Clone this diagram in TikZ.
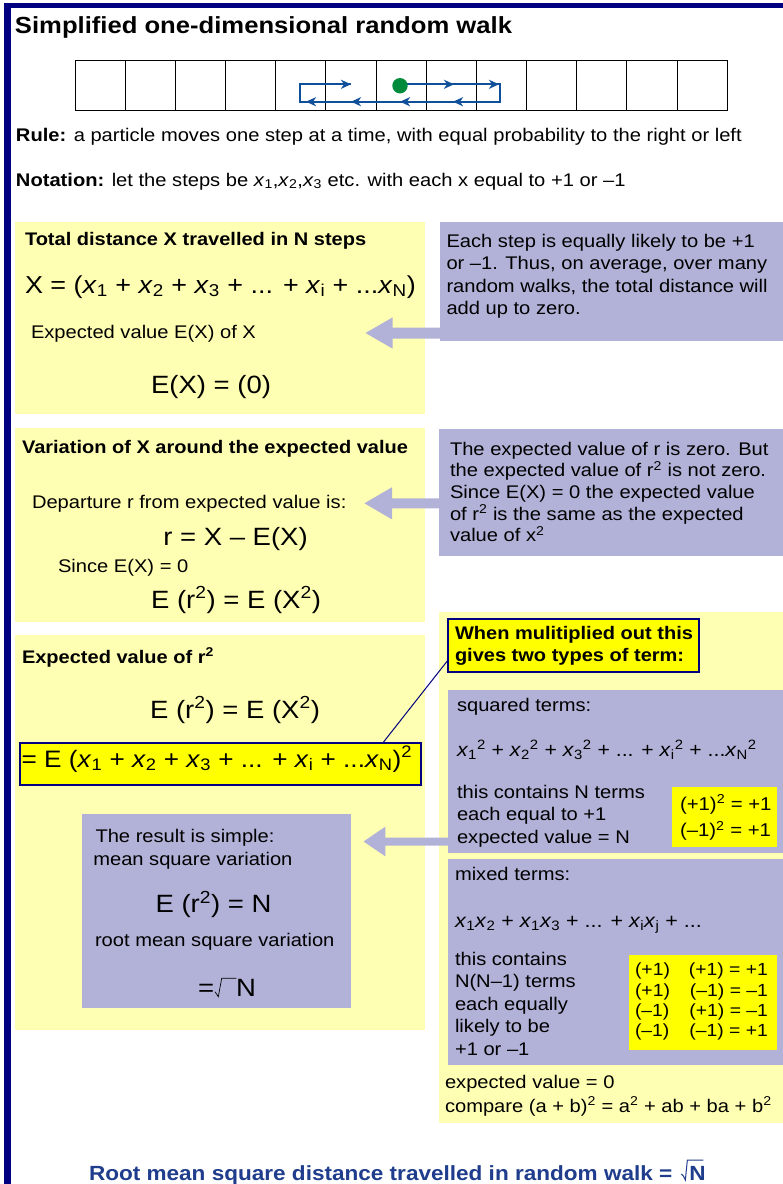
\documentclass[tikz,border=0pt]{standalone}
\usepackage{fontspec}
\setmainfont{Liberation Sans}[FakeStretch=1.1]
\usetikzlibrary{arrows.meta}
\definecolor{framec}{RGB}{0,0,128}
\definecolor{lyel}{RGB}{255,255,180}
\definecolor{lav}{RGB}{178,178,216}
\definecolor{byel}{RGB}{255,255,0}
\definecolor{walkblue}{RGB}{16,80,155}
\definecolor{dotgreen}{RGB}{0,140,60}
\definecolor{btmblue}{RGB}{31,61,140}
\newcommand\fsz[1]{\fontsize{#1}{#1}\selectfont}
\newcommand\vx{\textit{x}}
\newcommand\sps[1]{\textsuperscript{#1}}
\newcommand\sbs[1]{\textsubscript{#1}}
\begin{document}
\begin{tikzpicture}[x=1pt,y=-1pt,
  txt/.style={anchor=base west,inner sep=0pt,outer sep=0pt,font=\fsz{18.3}},
  ctxt/.style={anchor=base,inner sep=0pt,outer sep=0pt,font=\fsz{25}},
  head/.style={txt,font=\fsz{18.2}\bfseries},
  formula/.style={txt,font=\fsz{24.5}},
  panel/.style={anchor=north west,inner sep=0pt,outer sep=0pt,draw=none},
  ypanel/.style={panel,fill=lyel},
  lpanel/.style={panel,fill=lav},
  bpanel/.style={panel,fill=byel},
  bordered/.style={panel,fill=byel,draw=framec,line width=2pt},
  blockarrow/.style={draw=lav,line width=#1},
  walk/.style={draw=walkblue,line width=1.8pt},
  wtip/.style={walk,-{Stealth[length=10pt,width=9pt,inset=3pt]}},
  gridline/.style={draw=black,line width=0.9pt}]
\useasboundingbox (0,0) rectangle (783,1184);
\fill[white] (0,0) rectangle (783,1184);
% frame
\fill[framec] (4,3) rectangle (783,8.3);
\fill[framec] (4,3) rectangle (11,1184);
% title
\node[txt,font=\fsz{23.3}\bfseries] (title) at (15,33.3) {Simplified one-dimensional random walk};
% grid
\draw[gridline] (75,60) rectangle (727.2,110.7);
\foreach \i in {1,...,12} { \draw[gridline] (75+\i*50.17,60) -- (75+\i*50.17,110.7); }
% walk
\coordinate (wA) at (351,84.3);
\coordinate (wB) at (300,84.3);
\coordinate (wC) at (300,101.7);
\coordinate (wD) at (500,101.7);
\coordinate (wE) at (500,84.3);
\coordinate (wF) at (400,84.3);
\draw[walk] (wA) -- (wB) -- (wC) -- (wD) -- (wE) -- (wF);
\draw[wtip] (338,84.3) -- (wA);
\draw[wtip] (440,84.3) -- (454,84.3);
\draw[wtip] (484,84.3) -- (499,84.3);
\draw[wtip] (467,101.7) -- (453,101.7);
\draw[wtip] (414,101.7) -- (400,101.7);
\draw[wtip] (365,101.7) -- (351,101.7);
\draw[wtip] (320,101.7) -- (306,101.7);
\fill[dotgreen] (400,85.7) circle (7.7pt);
% rule and notation
\node[txt] (rule) at (16,141) {\textbf{Rule:} a particle moves one step at a time, with equal probability to the right or left};
\node[txt] (nota) at (16,186) {\textbf{Notation:} let the steps be \vx\sbs{1},\vx\sbs{2},\vx\sbs{3} etc. with each x equal to +1 or –1};
% panels
\node[ypanel,minimum width=410pt,minimum height=192.3pt] (box1) at (15,221.7) {};
\node[lpanel,minimum width=343pt,minimum height=119.3pt] (lav1) at (440,221.7) {};
\node[ypanel,minimum width=410pt,minimum height=193.4pt] (box2) at (15,428.3) {};
\node[lpanel,minimum width=344pt,minimum height=126.7pt] (lav2) at (439,429.3) {};
\node[ypanel,minimum width=410pt,minimum height=395pt] (box3) at (15,635) {};
\node[ypanel,minimum width=344.5pt,minimum height=511.3pt] (rbox) at (438.5,611.7) {};
\node[lpanel,minimum width=334.7pt,minimum height=163.3pt] (sq) at (448.3,690) {};
\node[bpanel,minimum width=105pt,minimum height=60.6pt] (sqy) at (671.7,786.7) {};
\node[lpanel,minimum width=334.7pt,minimum height=205.7pt] (mx) at (448.3,859.3) {};
\node[bpanel,minimum width=147.4pt,minimum height=95pt] (mxy) at (629.3,955) {};
\node[bordered,minimum width=251pt,minimum height=52.4pt] (when) at (448.3,619.3) {};
\node[bordered,minimum width=400.7pt,minimum height=42.3pt] (hl) at (20,742.7) {};
\node[lpanel,minimum width=269pt,minimum height=194pt] (res) at (81.7,814) {};
% block arrows
\coordinate (tip1) at (365,333);
\coordinate (tip2) at (364,503.3);
\coordinate (tip3) at (363.3,841.5);
\draw[blockarrow=11pt,-{Triangle[length=27.5pt,width=29pt]}] ([yshift=8pt]lav1.south west) -- (tip1);
\draw[blockarrow=10pt,-{Triangle[length=28pt,width=30pt]}] ([yshift=52.7pt]lav2.south west) -- (tip2);
\draw[blockarrow=8pt,-{Triangle[length=22pt,width=28pt]}] ([yshift=11.8pt]sq.south west) -- (tip3);
% connector line
\draw[framec,line width=1pt] ([xshift=363pt]hl.north west) -- ([yshift=12pt]when.south west);
% box 1
\node[head] (b1h) at (25,245) {Total distance X travelled in N steps};
\node[formula] (b1f) at (25,293) {X = (\vx\sbs{1} + \vx\sbs{2} + \vx\sbs{3} + ... + \vx\sbs{i} + ...\vx\sbs{N})};
\node[txt] (b1e) at (31,338) {Expected value E(X) of X};
\node[ctxt] (b1r) at (211,393) {E(X) = (0)};
\node[txt] (l1a) at (446.5,247) {Each step is equally likely to be +1};
\node[txt] (l1b) at (446.5,269.5) {or –1.  Thus, on average, over many};
\node[txt] (l1c) at (446.5,292) {random walks, the total distance will};
\node[txt] (l1d) at (446.5,314.5) {add up to zero.};
% box 2
\node[head] (b2h) at (22,453) {Variation of X around the expected value};
\node[txt] (b2d) at (32,508) {Departure r from expected value is:};
\node[ctxt] (b2r) at (235.5,545) {r = X – E(X)};
\node[txt] (b2s) at (58,572) {Since E(X) = 0};
\node[ctxt] (b2e) at (236,608) {E (r\sps{2}) = E (X\sps{2})};
\node[txt] (l2a) at (450,455) {The expected value of r is zero. But};
\node[txt] (l2b) at (450,476.7) {the expected value of r\sps{2} is not zero.};
\node[txt] (l2c) at (450,498.4) {Since E(X) = 0 the expected value};
\node[txt] (l2d) at (450,520.1) {of r\sps{2} is the same as the expected};
\node[txt] (l2e) at (450,541.8) {value of x\sps{2}};
% box 3
\node[head] (b3h) at (22,663) {Expected value of r\sps{2}};
\node[ctxt] (b3e) at (235,718) {E (r\sps{2}) = E (X\sps{2})};
\node[txt,font=\fsz{23.8}] (hlt) at (21.7,767) {= E (\vx\sbs{1} + \vx\sbs{2} + \vx\sbs{3} + ... + \vx\sbs{i} + ...\vx\sbs{N})\sps{2}};
% result
\node[txt] (r1) at (95.5,842) {The result is simple:};
\node[txt] (r2) at (93.3,865) {mean square variation};
\node[ctxt] (r3) at (213.5,912.7) {E (r\sps{2}) = N};
\node[txt] (r4) at (95,946.7) {root mean square variation};
\node[txt,font=\fsz{25}] (r5) at (198,996) {=};
\node[txt,font=\fsz{25}] (r5N) at (236,996) {N};
\draw[black,line width=0.7pt] (r5N.base west) ++(-21,-4.3) -- ++(3.3,5) -- ++(3.4,-18.4) -- ++(14.6,0);
% right side
\node[head] (wa) at (455,639) {When mulitiplied out this};
\node[head] (wb) at (455,661.5) {gives two types of term:};
\node[txt] (sqa) at (457,711) {squared terms:};
\node[txt,font=\fsz{19.3}] (sqf) at (457,756.7) {\vx\sbs{1}\sps{2} + \vx\sbs{2}\sps{2} + \vx\sbs{3}\sps{2} + ... + \vx\sbs{i}\sps{2} + ...\vx\sbs{N}\sps{2}};
\node[txt] (sqb) at (457,798) {this contains N terms};
\node[txt] (sqc) at (457,820.5) {each equal to +1};
\node[txt] (sqd) at (457,843) {expected value = N};
\node[txt,font=\fsz{18.5}] (sqy1) at (680,810) {(+1)\sps{2} = +1};
\node[txt,font=\fsz{18.5}] (sqy2) at (680,836.7) {(–1)\sps{2} = +1};
\node[txt] (mxa) at (455,880) {mixed terms:};
\node[txt,font=\fsz{19.5}] (mxf) at (455,927) {\vx\sbs{1}\vx\sbs{2} + \vx\sbs{1}\vx\sbs{3} + ... + \vx\sbs{i}\vx\sbs{j} + ...};
\node[txt] (mxb) at (455,965) {this contains};
\node[txt] (mxc) at (455,987.5) {N(N–1) terms};
\node[txt] (mxd) at (455,1010) {each equally};
\node[txt] (mxe) at (455,1032.5) {likely to be};
\node[txt] (mxg) at (455,1055) {+1 or –1};
\node[txt,font=\fsz{17.6}] (my1a) at (635,975) {(+1)};
\node[txt,font=\fsz{17.6}] (my2a) at (635,996) {(+1)};
\node[txt,font=\fsz{17.6}] (my3a) at (635,1016.5) {(–1)};
\node[txt,font=\fsz{17.6}] (my4a) at (635,1036.5) {(–1)};
\node[txt,anchor=base east,font=\fsz{17.6}] (my1b) at (768,975) {(+1) = +1};
\node[txt,anchor=base east,font=\fsz{17.6}] (my2b) at (768,996) {(–1) = –1};
\node[txt,anchor=base east,font=\fsz{17.6}] (my3b) at (768,1016.5) {(+1) = –1};
\node[txt,anchor=base east,font=\fsz{17.6}] (my4b) at (768,1036.5) {(–1) = +1};
\node[txt] (ev) at (445,1088) {expected value = 0};
\node[txt] (cmp) at (445,1112) {compare (a + b)\sps{2} = a\sps{2} + ab + ba + b\sps{2}};
% bottom line
\node[txt,font=\fsz{20.5}\bfseries,text=btmblue] (btm) at (89,1180) {Root mean square distance travelled in random walk =};
\node[txt,font=\fsz{20.5}\bfseries,text=btmblue] (btmN) at ([xshift=17pt]btm.base east) {N};
\draw[btmblue,line width=1pt] (btmN.base west) ++(-8,-6) -- ++(2,2) -- ++(2,4) -- ++(2,-20) -- ++(16,0);
\end{tikzpicture}
\end{document}
